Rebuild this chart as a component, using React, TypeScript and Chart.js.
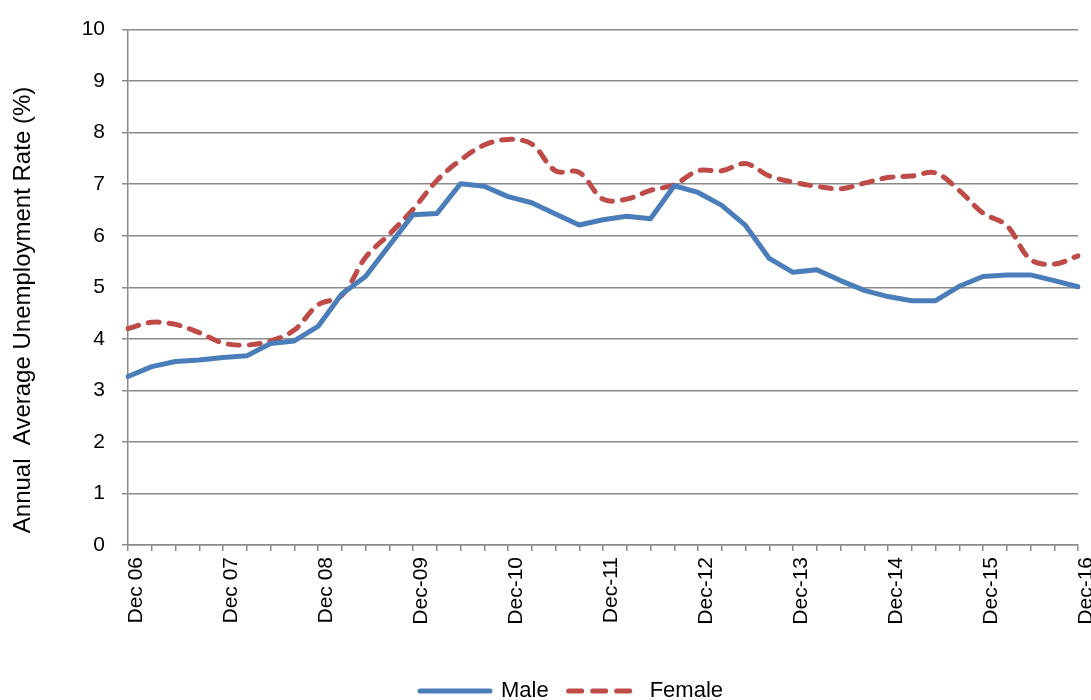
import React, { useEffect, useRef } from 'react';
import { Chart, registerables } from 'chart.js';

Chart.register(...registerables);

const quarters = [
  'Dec 06', 'Mar 07', 'Jun 07', 'Sep 07', 'Dec 07', 'Mar 08', 'Jun 08', 'Sep 08',
  'Dec 08', 'Mar 09', 'Jun 09', 'Sep 09', 'Dec 09', 'Mar 10', 'Jun 10', 'Sep 10',
  'Dec 10', 'Mar 11', 'Jun 11', 'Sep 11', 'Dec 11', 'Mar 12', 'Jun 12', 'Sep 12',
  'Dec 12', 'Mar 13', 'Jun 13', 'Sep 13', 'Dec 13', 'Mar 14', 'Jun 14', 'Sep 14',
  'Dec 14', 'Mar 15', 'Jun 15', 'Sep 15', 'Dec 15', 'Mar 16', 'Jun 16', 'Sep 16',
  'Dec 16',
];

const xTickLabels = [
  'Dec 06', 'Dec 07', 'Dec 08', 'Dec-09', 'Dec-10', 'Dec-11',
  'Dec-12', 'Dec-13', 'Dec-14', 'Dec-15', 'Dec-16',
];

const maleRate = [
  3.27, 3.46, 3.56, 3.59, 3.64, 3.67, 3.91, 3.96,
  4.24, 4.87, 5.21, 5.81, 6.41, 6.43, 7.01, 6.96,
  6.76, 6.64, 6.42, 6.21, 6.31, 6.38, 6.33, 6.97,
  6.84, 6.59, 6.20, 5.56, 5.29, 5.34, 5.13, 4.94,
  4.82, 4.74, 4.74, 5.02, 5.21, 5.24, 5.24, 5.13,
  5.01,
];

const femaleRate = [
  4.20, 4.32, 4.28, 4.12, 3.92, 3.88, 3.96, 4.17,
  4.66, 4.84, 5.58, 6.03, 6.51, 7.07, 7.47, 7.76,
  7.87, 7.78, 7.26, 7.23, 6.71, 6.71, 6.88, 6.99,
  7.26, 7.26, 7.40, 7.16, 7.04, 6.96, 6.91, 7.02,
  7.13, 7.16, 7.22, 6.88, 6.44, 6.20, 5.54, 5.45,
  5.61,
];

const yTitle = 'Annual  Average Unemployment Rate (%)';
const FONT = "'Liberation Sans', Arial, Helvetica, sans-serif";
const GRID = '#8a8a8a';

const yTitlePlugin = {
  id: 'yTitlePlugin',
  afterDraw(chart: any) {
    const ctx = chart.ctx;
    ctx.save();
    ctx.translate(23, 310);
    ctx.rotate(-Math.PI / 2);
    ctx.font = `24px ${FONT}`;
    ctx.fillStyle = '#000';
    ctx.textAlign = 'center';
    ctx.textBaseline = 'middle';
    ctx.fillText(yTitle, 0, 0);
    ctx.restore();
  },
};

export default function App() {
  const ref = useRef<HTMLCanvasElement | null>(null);

  useEffect(() => {
    if (!ref.current) return;
    const chart = new Chart(ref.current, {
      type: 'line',
      data: {
        labels: quarters,
        datasets: [
          {
            label: 'Male',
            data: maleRate,
            borderColor: '#4A7EBB',
            backgroundColor: '#4A7EBB',
            borderWidth: 5,
            borderCapStyle: 'round',
            borderJoinStyle: 'round',
            pointRadius: 0,
            tension: 0,
          },
          {
            label: 'Female',
            data: femaleRate,
            borderColor: '#BE4B48',
            backgroundColor: '#BE4B48',
            borderWidth: 5,
            borderDash: [11, 10],
            borderCapStyle: 'round',
            borderJoinStyle: 'round',
            pointRadius: 0,
            tension: 0.35,
          },
        ],
      },
      options: {
        animation: false,
        responsive: false,
        maintainAspectRatio: false,
        devicePixelRatio: 1,
        layout: { padding: { top: 25, right: 13, bottom: 0, left: 65 } },
        plugins: {
          tooltip: { enabled: false },
          title: { display: false },
          legend: {
            position: 'bottom',
            labels: {
              usePointStyle: true,
              pointStyle: 'line',
              pointStyleWidth: 70,
              padding: 20,
              color: '#000',
              font: { family: FONT, size: 22 },
              generateLabels: (c: any) => {
                const items = Chart.defaults.plugins.legend.labels.generateLabels(c);
                return items.map((it: any) => {
                  const ds: any = c.data.datasets[it.datasetIndex];
                  return {
                    ...it,
                    pointStyle: 'line',
                    strokeStyle: ds.borderColor,
                    fillStyle: ds.borderColor,
                    lineWidth: 5,
                    lineDash: ds.borderDash ? [13, 11] : [],
                    lineCap: 'round',
                  };
                });
              },
            },
          },
        },
        scales: {
          x: {
            type: 'category',
            offset: false,
            afterFit: (s: any) => {
              s.height = 115;
              s.paddingLeft = 0;
              s.paddingRight = 0;
            },
            grid: {
              display: true,
              drawOnChartArea: false,
              drawTicks: true,
              tickLength: 6,
              color: GRID,
              lineWidth: 1.5,
            },
            border: { display: true, color: GRID, width: 1.5 },
            ticks: {
              autoSkip: false,
              maxRotation: 90,
              minRotation: 90,
              padding: 6,
              labelOffset: 8,
              color: '#000',
              font: { family: FONT, size: 21 },
              callback: (_v: any, index: number) =>
                index % 4 === 0 ? xTickLabels[index / 4] : '',
            },
          },
          y: {
            min: 0,
            max: 10,
            afterFit: (s: any) => {
              s.width = 63;
            },
            grid: {
              color: GRID,
              lineWidth: 1.5,
              drawTicks: true,
              tickLength: 6,
            },
            border: { display: true, color: GRID, width: 1.5 },
            ticks: {
              stepSize: 1,
              padding: 17,
              color: '#000',
              font: { family: FONT, size: 21 },
            },
          },
        },
      },
      plugins: [yTitlePlugin],
    } as any);
    return () => chart.destroy();
  }, []);

  return (
    <div
      style={{
        position: 'fixed',
        left: 0,
        top: 0,
        width: 1091,
        height: 700,
        overflow: 'hidden',
        background: '#fff',
      }}
    >
      <canvas ref={ref} width={1091} height={712} style={{ display: 'block' }} />
    </div>
  );
}
